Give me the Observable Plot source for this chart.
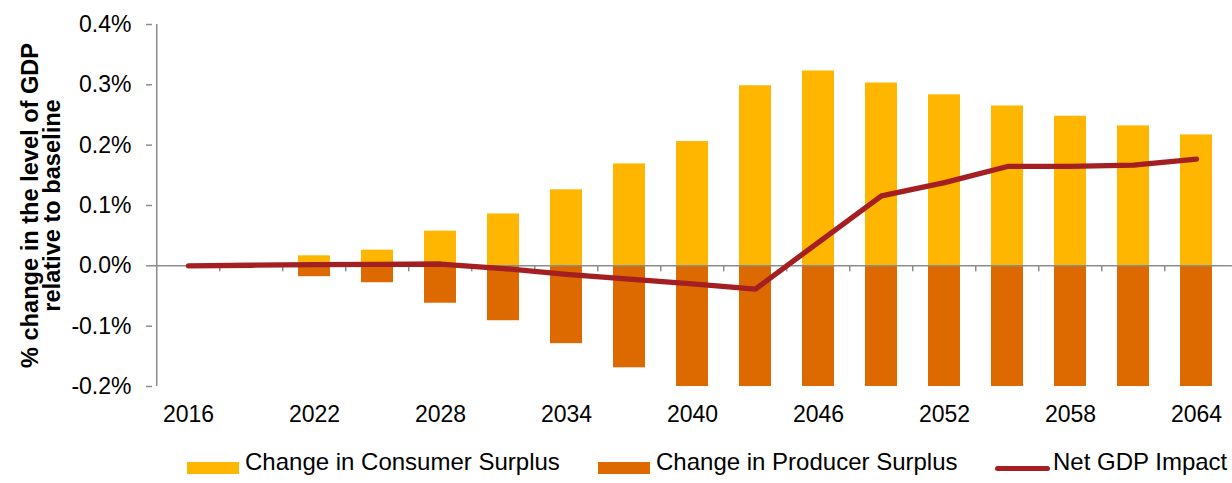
<!DOCTYPE html>
<html>
<head>
<meta charset="utf-8">
<script src="https://cdn.jsdelivr.net/npm/d3@7"></script>
<script src="https://cdn.jsdelivr.net/npm/@observablehq/plot@0.6"></script>
<style>
  html, body { margin: 0; padding: 0; background: #fff; }
  body { width: 1232px; height: 483px; overflow: hidden; font-family: "Liberation Sans", Arial, sans-serif; }
  #chart { position: relative; width: 1232px; height: 440px; }
  #legend { position: relative; width: 1232px; height: 43px; font-size: 24px; color: #000; }
  #legend .sw { position: absolute; }
  #legend .lb { position: absolute; top: 8px; line-height: 28px; white-space: nowrap; }
</style>
</head>
<body>
<div id="chart"></div>
<div id="legend"></div>
<script>
// ---- data (values in % change of GDP level) ----
const years = ["2016","2019","2022","2025","2028","2031","2034","2037","2040","2043","2046","2049","2052","2055","2058","2061","2064"];
const consumerSurplus = [null, null, 0.0166, 0.026, 0.0575, 0.086, 0.126, 0.169, 0.206, 0.2985, 0.323, 0.303, 0.2835, 0.265, 0.248, 0.232, 0.217];
const producerSurplus = [null, null, -0.018, -0.028, -0.062, -0.091, -0.129, -0.169, -0.201, -0.24, -0.26, -0.255, -0.25, -0.245, -0.24, -0.235, -0.23];
const netGDP = [0, 0.001, 0.002, 0.0025, 0.003, -0.0045, -0.014, -0.022, -0.030, -0.0385, 0.039, 0.116, 0.138, 0.1647, 0.165, 0.167, 0.177];
const yTicks = [-0.2, -0.1, 0, 0.1, 0.2, 0.3, 0.4];
const seriesNames = ["Change in Consumer Surplus", "Change in Producer Surplus", "Net GDP Impact"];
const yTitle = "% change in the level of GDP\nrelative to baseline";

const colors = { consumer: "#FFB600", producer: "#DD6A00", net: "#A31F22", axis: "#8C8C8C" };

const table = years.map((year, i) => ({ year, consumer: consumerSurplus[i], producer: producerSurplus[i], net: netGDP[i] }));

const W = 1232, H = 440, mL = 152, mR = 0, mT = 24, mB = 54;
const step = (W - mL - mR) / years.length;
const yDomain = [d3.min(yTicks), d3.max(yTicks)];
const tickLen = 6 * (yDomain[1] - yDomain[0]) / (H - mT - mB);

const chart = Plot.plot({
  width: W, height: H,
  marginLeft: mL, marginRight: mR, marginTop: mT, marginBottom: mB,
  style: { fontFamily: "'Liberation Sans', Arial, sans-serif", fontSize: "23px", color: "#000", background: "#fff" },
  x: { type: "band", domain: years, paddingInner: 0.5, paddingOuter: 0.25, axis: null },
  y: { domain: yDomain, axis: null },
  marks: [
    Plot.barY(table.filter(d => d.consumer != null), { x: "year", y1: 0, y2: "consumer", fill: colors.consumer, clip: true }),
    Plot.barY(table.filter(d => d.producer != null), { x: "year", y1: 0, y2: "producer", fill: colors.producer, clip: true }),
    Plot.ruleY([0], { stroke: colors.axis, strokeWidth: 1.5 }),
    Plot.ruleX(years.slice(1), { x: d => d, y1: 0, y2: -tickLen, dx: -step / 2, stroke: colors.axis, strokeWidth: 1.5 }),
    Plot.ruleX([years[0]], { x: d => d, y1: yDomain[0], y2: yDomain[1], dx: -step / 2, stroke: colors.axis, strokeWidth: 1.5 }),
    Plot.axisY({ ticks: yTicks, tickFormat: d => d.toFixed(1) + "%", tickSize: 6, tickPadding: 15, stroke: colors.axis, fill: "#000", fontSize: 23, strokeWidth: 1.5, label: null }),
    Plot.axisX({ tickSize: 0, tickPadding: 19, tickFormat: (d, i) => (i % 2 === 0 ? d : ""), fontSize: 23, fill: "#000", label: null }),
    Plot.lineY(table, { x: "year", y: "net", stroke: colors.net, strokeWidth: 5.3, strokeLinecap: "round", strokeLinejoin: "round" }),
    Plot.text([yTitle], { frameAnchor: "left", textAnchor: "middle", lineAnchor: "middle", dx: -111, rotate: -90, fontWeight: "bold", fontSize: 23.6, lineHeight: 0.94, fill: "#000" })
  ]
});
document.getElementById("chart").appendChild(chart);

// ---- legend ----
const legend = document.getElementById("legend");
const items = [
  { name: seriesNames[0], color: colors.consumer, kind: "rect", swLeft: 187, swW: 52, lbLeft: 245 },
  { name: seriesNames[1], color: colors.producer, kind: "rect", swLeft: 598, swW: 52, lbLeft: 656 },
  { name: seriesNames[2], color: colors.net, kind: "line", swLeft: 995, swW: 55, lbLeft: 1053 }
];
items.forEach(it => {
  const sw = document.createElement("div");
  sw.className = "sw";
  sw.style.left = it.swLeft + "px";
  sw.style.width = it.swW + "px";
  sw.style.background = it.color;
  if (it.kind === "rect") { sw.style.top = "22px"; sw.style.height = "12px"; }
  else { sw.style.top = "25.5px"; sw.style.height = "5px"; sw.style.borderRadius = "3px"; }
  legend.appendChild(sw);
  const lb = document.createElement("div");
  lb.className = "lb";
  lb.style.left = it.lbLeft + "px";
  lb.textContent = it.name;
  legend.appendChild(lb);
});
</script>
</body>
</html>
